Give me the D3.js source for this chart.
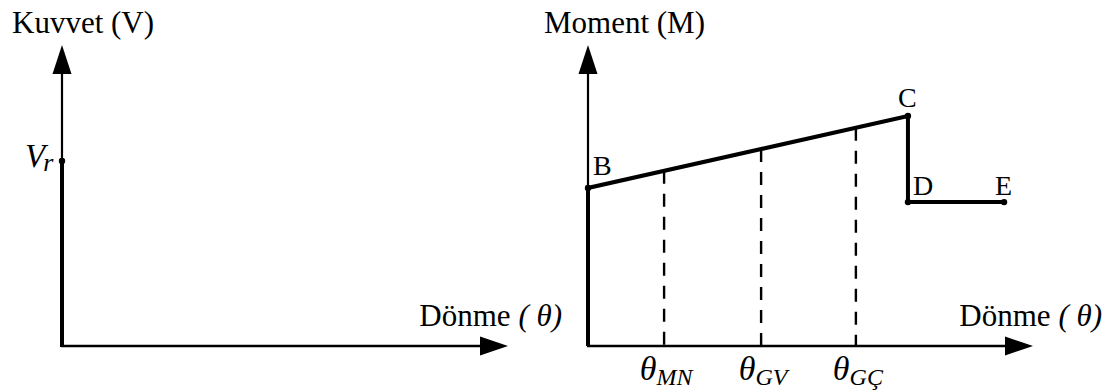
<!DOCTYPE html>
<html>
<head>
<meta charset="utf-8">
<script src="https://cdn.jsdelivr.net/npm/d3@7"></script>
<style>
  html, body { margin: 0; padding: 0; background: #fff; }
  svg { display: block; }
  text { font-family: "Liberation Serif", "Times New Roman", serif; fill: #000; }
</style>
</head>
<body>
<svg id="chart" width="1113" height="392"></svg>
<script>
// ---- data ----
const shearValue = 6.15;                       // V_r on left chart
const momentTheta = [0, 0, 7.19, 7.19, 9.35];  // rotation of path points (origin, B, C, D, E)
const momentValues = [0, 5.25, 7.64, 4.78, 4.78];
const pointLabels = ["", "B", "C", "D", "E"];
const thetaMarks = [1.71, 3.89, 6.02];
const thetaSubs = ["MN", "GV", "GÇ"];
const axisTitlesY = ["Kuvvet (V)", "Moment (M)"];
const axisTitleX = "Dönme ";
const axisTitleXItalic = "( θ)";

const svg = d3.select("#chart");
svg.append("rect").attr("width", 1113).attr("height", 392).attr("fill", "#fff");

const y = d3.scaleLinear().domain([0, 10]).range([346, 45]);
const xL = d3.scaleLinear().domain([0, 10]).range([62, 508]);
const xR = d3.scaleLinear().domain([0, 10]).range([588, 1033]);

function drawAxes(x, title, titleX) {
  const g = svg.append("g");
  const arrowLenV = 29, arrowLenH = 28, half = 9.5;
  // y axis
  g.append("line").attr("x1", x(0)).attr("x2", x(0))
    .attr("y1", y(0)).attr("y2", y(10) + arrowLenV - 1)
    .attr("stroke", "#000").attr("stroke-width", 2.2);
  g.append("path").attr("d", d3.line()([
    [x(0), y(10)], [x(0) - half, y(10) + arrowLenV], [x(0) + half, y(10) + arrowLenV]
  ]) + "Z").attr("fill", "#000");
  // x axis
  g.append("line").attr("x1", x(0) - 1).attr("x2", x(10) - arrowLenH + 1)
    .attr("y1", y(0)).attr("y2", y(0))
    .attr("stroke", "#000").attr("stroke-width", 2.6);
  g.append("path").attr("d", d3.line()([
    [x(10), y(0)], [x(10) - arrowLenH, y(0) - half], [x(10) - arrowLenH, y(0) + half]
  ]) + "Z").attr("fill", "#000");
  // titles
  g.append("text").attr("x", title.x).attr("y", 33)
    .attr("font-size", 31).text(title.text);
  const t = g.append("text").attr("x", titleX).attr("y", 326)
    .attr("text-anchor", "end").attr("font-size", 31);
  t.append("tspan").text(axisTitleX);
  t.append("tspan").attr("font-style", "italic").text(axisTitleXItalic);
}

drawAxes(xL, {x: 12, text: axisTitlesY[0]}, 562);
drawAxes(xR, {x: 544, text: axisTitlesY[1]}, 1102);

// ---- left chart: shear ----
svg.append("line").attr("x1", xL(0)).attr("x2", xL(0))
  .attr("y1", y(0) + 1).attr("y2", y(shearValue))
  .attr("stroke", "#000").attr("stroke-width", 4);
svg.append("circle").attr("cx", xL(0)).attr("cy", y(shearValue)).attr("r", 3.2).attr("fill", "#000");
const vr = svg.append("text").attr("x", xL(0) - 37).attr("y", y(shearValue) + 6)
  .attr("font-size", 33).attr("font-style", "italic");
vr.append("tspan").text("V");
vr.append("tspan").attr("font-size", 26).attr("dy", 4).attr("dx", -2).text("r");

// ---- right chart: moment ----
const pts = momentTheta.map((t, i) => [xR(t), y(momentValues[i])]);

// dashed markers
const B = [momentTheta[1], momentValues[1]], C = [momentTheta[2], momentValues[2]];
thetaMarks.forEach((t, i) => {
  const m = B[1] + (C[1] - B[1]) * (t - B[0]) / (C[0] - B[0]);
  svg.append("line").attr("x1", xR(t)).attr("x2", xR(t))
    .attr("y1", y(m)).attr("y2", y(0))
    .attr("stroke", "#000").attr("stroke-width", 2.4)
    .attr("stroke-dasharray", "13,10");
  const lab = svg.append("text").attr("x", xR(t) + 2).attr("y", 380)
    .attr("text-anchor", "middle").attr("font-style", "italic").attr("font-size", 34);
  lab.append("tspan").text("θ");
  lab.append("tspan").attr("font-size", 24).attr("dy", 5).text(thetaSubs[i]);
});

svg.append("path").attr("d", d3.line()(pts))
  .attr("fill", "none").attr("stroke", "#000").attr("stroke-width", 4)
  .attr("stroke-linejoin", "miter");

const labOff = [null, [5, -13], [-10, -9], [5, -7], [-9, -7]];
pts.forEach((p, i) => {
  if (i === 0) return;
  svg.append("circle").attr("cx", p[0]).attr("cy", p[1]).attr("r", 3.2).attr("fill", "#000");
  svg.append("text").attr("x", p[0] + labOff[i][0]).attr("y", p[1] + labOff[i][1])
    .attr("font-size", 28).text(pointLabels[i]);
});
</script>
</body>
</html>
